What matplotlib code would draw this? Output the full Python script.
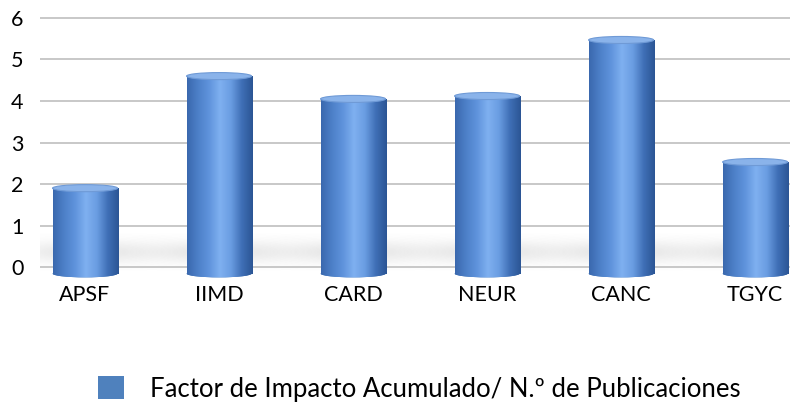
import matplotlib
matplotlib.use("Agg")
import matplotlib.pyplot as plt
import numpy as np
from matplotlib.colors import LinearSegmentedColormap
from matplotlib.patches import Ellipse, Patch

categories = ["APSF", "IIMD", "CARD", "NEUR", "CANC", "TGYC"]
values = [1.9, 4.6, 4.05, 4.12, 5.47, 2.53]
legend_label = "Factor de Impacto Acumulado/ N.º de Publicaciones"
yticks = [0, 1, 2, 3, 4, 5, 6]

plt.rcParams['font.family'] = ['Lato', 'DejaVu Sans']

fig = plt.figure(figsize=(8, 4.07), dpi=100)
ax = fig.add_axes([0.05, 0.3174, 0.9375, 0.6435])

cmap = LinearSegmentedColormap.from_list(
    "cyl", ["#3a68ae", "#4d80c8", "#5f93dc", "#7fb0f0", "#6a9de2", "#3f6fb6", "#2b5594"])
grad = np.linspace(0, 1, 256).reshape(1, -1)

width = 0.485
base = -0.16
x = np.arange(len(categories))

for gy in yticks:
    ax.axhline(gy, color="#c4c4c4", lw=1.3, zorder=1)

# soft floor shadows
gx = np.linspace(-1, 1, 120)
gyy = np.linspace(-1, 1, 60)
GX, GY = np.meshgrid(gx, gyy)
shadow = np.exp(-(GX ** 2) * 3 - (GY ** 2) * 3)
shadow_rgba = np.zeros(shadow.shape + (4,))
shadow_rgba[..., :3] = 0.45
shadow_rgba[..., 3] = shadow * 0.18

for i, v in enumerate(values):
    ax.imshow(shadow_rgba, extent=[x[i] - 0.85, x[i] + 0.85, -0.1, 0.8],
              aspect="auto", zorder=0.5, interpolation="bilinear")
    bars = ax.bar(x[i], v - base, bottom=base, width=width, color="#4f81bd",
                  edgecolor="none", zorder=3)
    patch = bars[0]
    im = ax.imshow(grad, extent=[x[i] - width / 2, x[i] + width / 2, base - 0.2, v],
                   aspect="auto", cmap=cmap, zorder=3.1, interpolation="bilinear")
    im.set_clip_path(patch)
    bot = Ellipse((x[i], base), width, 0.18, facecolor="#4f81bd", edgecolor="none", zorder=2.9)
    ax.add_patch(bot)
    im2 = ax.imshow(grad, extent=[x[i] - width / 2, x[i] + width / 2, base - 0.2, base + 0.1],
                    aspect="auto", cmap=cmap, zorder=3.05, interpolation="bilinear")
    im2.set_clip_path(bot)
    top = Ellipse((x[i], v), width, 0.17, facecolor="#8ab3ea", edgecolor="#6f9ad6",
                  lw=0.8, zorder=4)
    ax.add_patch(top)

ax.set_xlim(-0.336, 5.26)
ax.set_ylim(-0.26, 6.05)
ax.set_xticks(x)
ax.set_xticklabels(categories, fontsize=15.5, color="#000000")
ax.set_yticks(yticks)
ax.set_yticklabels([str(t) for t in yticks], fontsize=15.5, color="#000000")
ax.tick_params(axis="both", length=0)
ax.tick_params(axis="x", pad=5)
ax.tick_params(axis="y", pad=12)
for s in ax.spines.values():
    s.set_visible(False)

handle = Patch(facecolor="#4f81bd", edgecolor="none")
fig.legend([handle], [legend_label], loc="center", bbox_to_anchor=(0.524, 0.044),
           frameon=False, fontsize=18.5, handlelength=1.0, handleheight=1.0,
           handletextpad=1.0, borderpad=0, borderaxespad=0)

fig.savefig("out.png", dpi=100, facecolor="white")
